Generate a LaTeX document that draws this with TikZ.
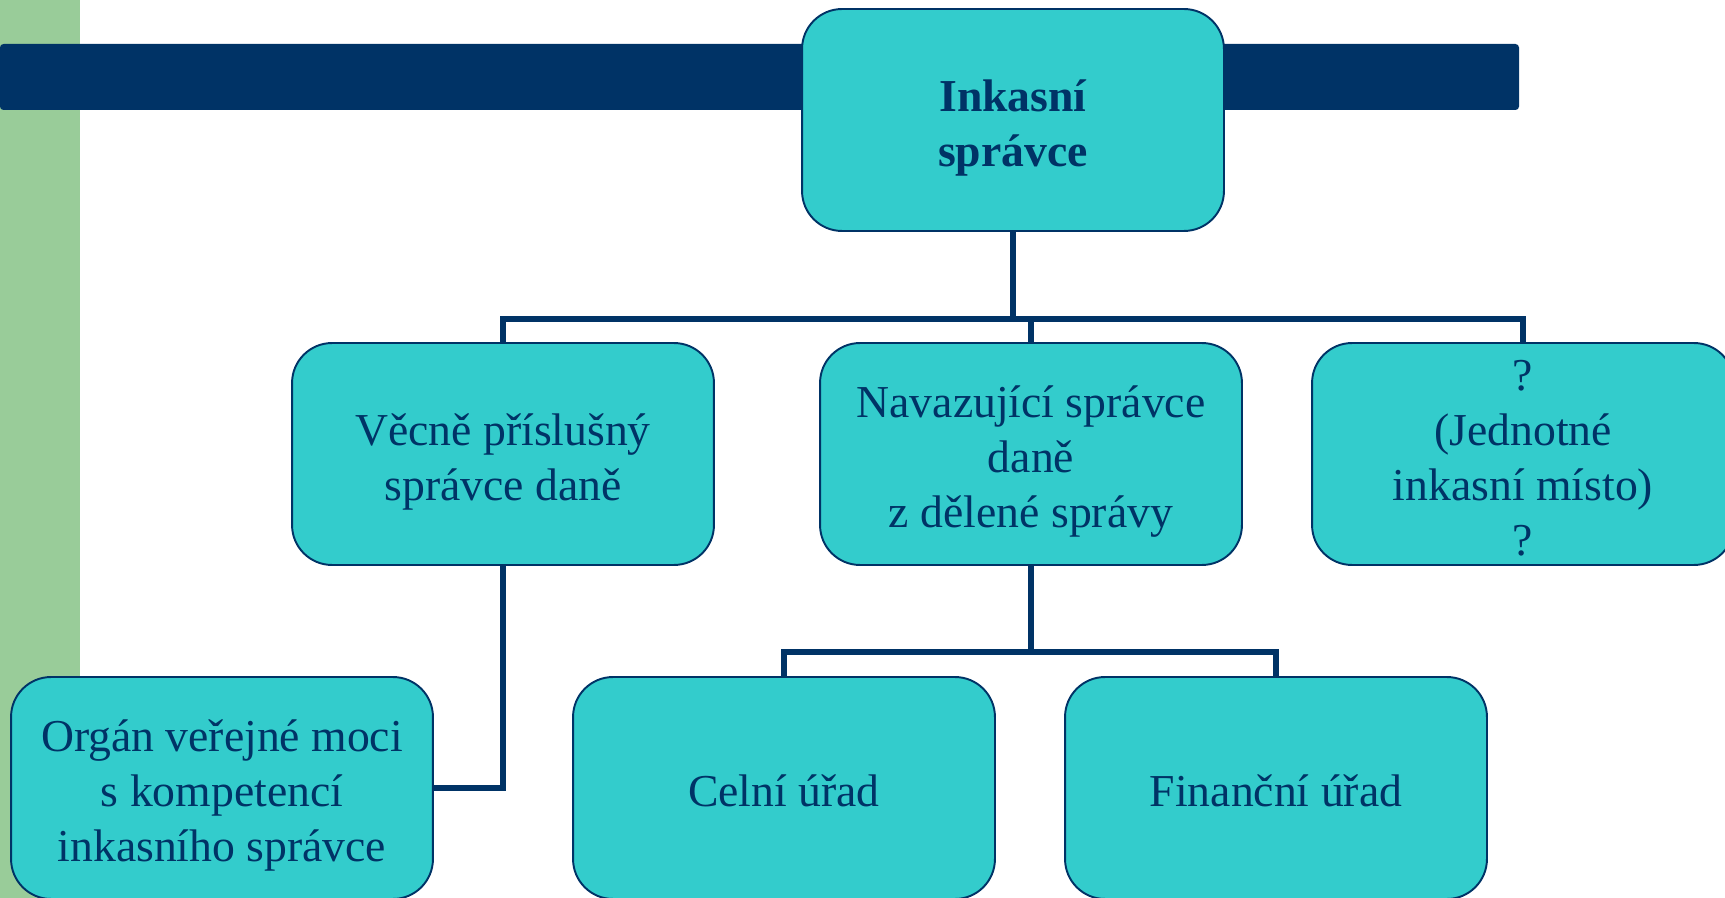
\documentclass[tikz,border=0pt]{standalone}
\usepackage{fontspec}
\setmainfont{Liberation Serif}
\usetikzlibrary{positioning}
\definecolor{tmavamodra}{RGB}{0,51,102}
\definecolor{tyrkys}{RGB}{51,204,204}
\definecolor{zelena}{RGB}{153,204,153}
\tikzset{
  box/.style={draw=tmavamodra, line width=1.1pt, fill=tyrkys, rounded corners=0.8cm,
    minimum width=8.44cm, minimum height=4.44cm, align=center, text=tmavamodra,
    font=\fontsize{26}{31.3}\selectfont},
  % vertical placing of the text by number of lines
  radky/.code={\pgfmathsetmacro\vyskaradku{(#1-1)*31.3+21.2}%
    \tikzset{text depth=0pt, text height/.expanded=\vyskaradku pt}},
  spoj/.style={draw=tmavamodra, line width=3pt}
}

\begin{document}
\begin{tikzpicture}[x=0.02cm, y=-0.02cm]
	\useasboundingbox (0,0) rectangle (1725,898);
	\clip (0,0) rectangle (1725,898);
	% background strips
	\fill[zelena] (0,0) rectangle (80,898);
	\fill[tmavamodra, rounded corners=2pt] (0,44) rectangle (1519,110);
	% draw boxes
	\node[box, radky=2, font=\fontsize{26}{31.3}\selectfont\bfseries] (inkasni) at (1013,120) {Inkasní\\ správce};
	\node[box, radky=2] (vecne) at (503,454) {Věcně příslušný\\ správce daně};
	\node[box, radky=3] (navaz) at (1031,454) {Navazující správce\\ daně\\ z dělené správy};
	\node[box, radky=4] (jim) at (1523,454) {?\\ (Jednotné\\ inkasní místo)\\ ?};
	\node[box, radky=3] (organ) at (222,788) {Orgán veřejné moci\\ s kompetencí\\ inkasního správce};
	\node[box, radky=1] (celni) at (784,788) {Celní úřad};
	\node[box, radky=1] (financni) at (1276,788) {Finanční úřad};
	% connectors
	\coordinate (bus1) at (1013,319);
	\coordinate (bus2) at (1031,652);
	\draw[spoj] (inkasni.south) -- (bus1);
	\draw[spoj] (vecne.north) |- (bus1) -| (jim.north);
	\draw[spoj] (navaz.north) -- (navaz.north |- bus1);
	\draw[spoj] (navaz.south) -- (bus2);
	\draw[spoj] (celni.north) |- (bus2) -| (financni.north);
	\draw[spoj] (vecne.south) |- (organ.east);
\end{tikzpicture}
\end{document}
